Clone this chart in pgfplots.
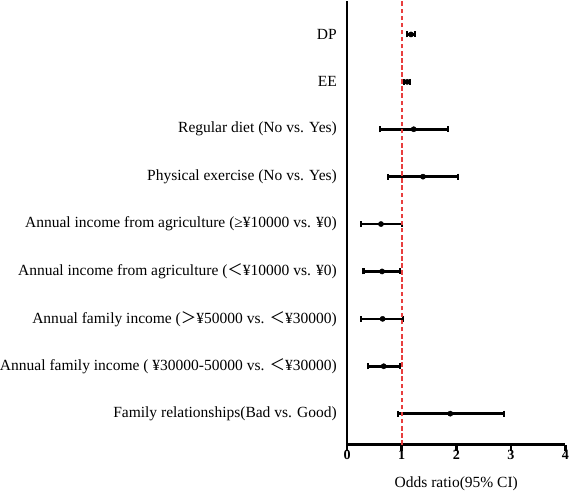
\documentclass[border=0pt]{standalone}
\usepackage{pgfplots}
\pgfplotsset{compat=1.18}
\usepackage{pgfplotstable}
\usepackage{fontspec}
\setmainfont{Liberation Serif}
\newfontfamily\cjk{Noto Sans CJK SC}

\definecolor{refred}{RGB}{232,62,62}

% odds ratios with 95% confidence limits, row 9 at the top
\pgfplotstableread{
row or   lo   hi
9   1.17 1.09 1.25
8   1.10 1.05 1.16
7   1.22 0.60 1.84
6   1.39 0.74 2.04
5   0.62 0.25 1.01
4   0.64 0.30 0.97
3   0.65 0.26 1.03
2   0.67 0.38 0.96
1   1.89 0.93 2.87
}\ordata

\begin{document}
\begin{tikzpicture}
\begin{axis}[
  scale only axis,
  width=216bp, height=438.7bp,
  xmin=0, xmax=4, ymin=0.345, ymax=9.70,
  axis x line=bottom, axis y line=left,
  axis line style={-, line width=2.5bp, black},
  xtick={0,1,2,3,4},
  ytick={1,...,9},
  yticklabels={
    Family relationships(Bad vs. Good),
    Annual family income ( ¥30000-50000 vs. {\cjk ＜}¥30000),
    Annual family income ({\cjk ＞}¥50000 vs. {\cjk ＜}¥30000),
    Annual income from agriculture ({\cjk ＜}¥10000 vs. ¥0),
    Annual income from agriculture (≥¥10000 vs. ¥0),
    Physical exercise (No vs. Yes),
    Regular diet (No vs. Yes),
    EE,
    DP},
  x tick label style={font=\fontsize{14}{15}\selectfont\bfseries, inner sep=0pt, yshift=1bp},
  xticklabel={\textbf{\pgfmathprintnumber[assume math mode=true]{\tick}}},
  xtick align=outside,
  major tick length=6bp,
  x tick style={draw=black, line width=2.5bp},
  y tick style={draw=none},
  yticklabel style={font=\fontsize{15.4}{17}\selectfont, inner sep=0pt, xshift=-7bp},
  xlabel={Odds ratio(95\% CI)},
  xlabel style={font=\fontsize{15.4}{17}\selectfont, at={(axis description cs:0.5,0)},
    anchor=base, yshift=-42.3bp, inner sep=0pt},
  clip=false,
]
\addplot[black, only marks, mark=*, mark size=2.6bp,
  error bars/.cd, x dir=both, x explicit,
  error bar style={line width=2.5bp, black},
  error mark options={line width=2bp, mark size=3bp, black, rotate=90}]
  table[x=or, y=row,
        x error plus expr=\thisrow{hi}-\thisrow{or},
        x error minus expr=\thisrow{or}-\thisrow{lo}] {\ordata};
\addplot[refred, line width=2bp, dash pattern=on 4.5bp off 2.5bp]
  coordinates {(1,0.345) (1,9.70)};
\end{axis}
\end{tikzpicture}
\end{document}
